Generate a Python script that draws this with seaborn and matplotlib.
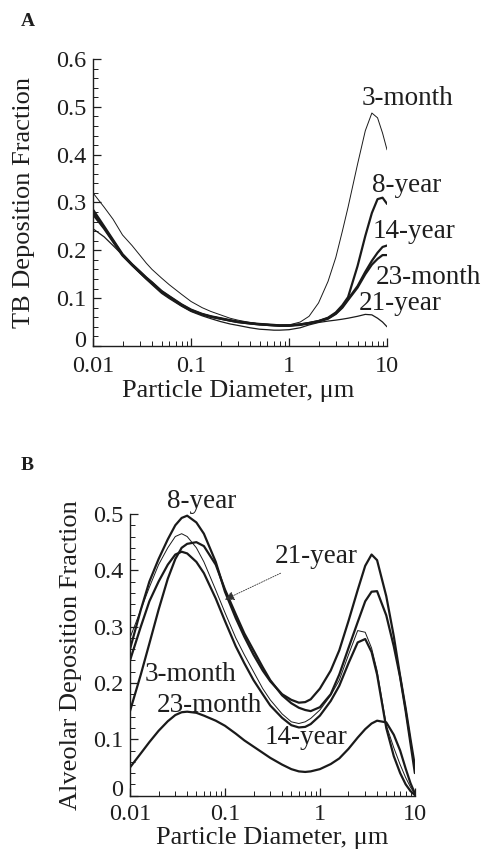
import numpy as np
import pandas as pd
import matplotlib
matplotlib.use("Agg")
import matplotlib.pyplot as plt
import matplotlib.ticker as mticker
import seaborn as sns

# ---------------- data ----------------
diam = [0.01, 0.013, 0.016, 0.02, 0.025, 0.03, 0.035, 0.04, 0.05, 0.06, 0.08, 0.1,
        0.13, 0.16, 0.2, 0.25, 0.3, 0.4, 0.5, 0.6, 0.7, 0.8, 1.0, 1.3, 1.6, 2.0,
        2.5, 3.0, 3.5, 4.0, 5.0, 6.0, 7.0, 8.0, 9.0, 10.0]

# Panel A: tracheobronchial (TB) deposition fraction
tb_3month = [0.320, 0.290, 0.265, 0.232, 0.210, 0.190, 0.173, 0.160, 0.142, 0.128, 0.108, 0.093,
             0.080, 0.072, 0.065, 0.058, 0.054, 0.049, 0.046, 0.044, 0.043, 0.043, 0.044, 0.050,
             0.062, 0.090, 0.135, 0.185, 0.240, 0.290, 0.380, 0.450, 0.487, 0.477, 0.445, 0.410]
tb_8year = [0.285, 0.250, 0.222, 0.192, 0.171, 0.156, 0.143, 0.133, 0.115, 0.104, 0.087, 0.076,
            0.067, 0.062, 0.058, 0.054, 0.051, 0.048, 0.046, 0.045, 0.044, 0.043, 0.043, 0.045,
            0.048, 0.052, 0.059, 0.070, 0.085, 0.102, 0.167, 0.230, 0.278, 0.307, 0.310, 0.297]
tb_14year = [0.280, 0.247, 0.220, 0.190, 0.170, 0.155, 0.142, 0.132, 0.114, 0.103, 0.086, 0.075,
             0.066, 0.061, 0.057, 0.053, 0.050, 0.047, 0.045, 0.044, 0.043, 0.043, 0.043, 0.045,
             0.048, 0.052, 0.058, 0.068, 0.082, 0.098, 0.125, 0.155, 0.178, 0.195, 0.207, 0.210]
tb_23month = [0.275, 0.245, 0.218, 0.189, 0.169, 0.154, 0.141, 0.131, 0.113, 0.102, 0.085, 0.074,
              0.066, 0.061, 0.057, 0.053, 0.050, 0.047, 0.045, 0.044, 0.043, 0.042, 0.042, 0.044,
              0.047, 0.051, 0.057, 0.067, 0.080, 0.096, 0.122, 0.150, 0.170, 0.182, 0.190, 0.190]
tb_21year = [0.245, 0.228, 0.210, 0.190, 0.168, 0.152, 0.139, 0.128, 0.110, 0.099, 0.083, 0.072,
             0.063, 0.057, 0.051, 0.046, 0.043, 0.038, 0.035, 0.034, 0.033, 0.033, 0.034, 0.038,
             0.044, 0.049, 0.052, 0.054, 0.056, 0.058, 0.062, 0.066, 0.065, 0.058, 0.050, 0.040]

# Panel B: alveolar deposition fraction
al_8year = [0.260, 0.330, 0.380, 0.420, 0.455, 0.480, 0.493, 0.497, 0.485, 0.465, 0.415, 0.362,
            0.315, 0.282, 0.250, 0.222, 0.203, 0.180, 0.170, 0.165, 0.166, 0.171, 0.190, 0.222,
            0.258, 0.310, 0.365, 0.408, 0.428, 0.418, 0.354, 0.283, 0.212, 0.155, 0.100, 0.053]
al_21year = [0.150, 0.215, 0.270, 0.330, 0.385, 0.420, 0.440, 0.447, 0.450, 0.443, 0.410, 0.366,
             0.322, 0.288, 0.258, 0.228, 0.205, 0.178, 0.164, 0.156, 0.152, 0.150, 0.157, 0.180,
             0.215, 0.262, 0.308, 0.345, 0.362, 0.363, 0.320, 0.265, 0.210, 0.150, 0.092, 0.040]
al_3month = [0.280, 0.330, 0.370, 0.410, 0.440, 0.460, 0.465, 0.460, 0.440, 0.415, 0.365, 0.325,
             0.280, 0.250, 0.220, 0.190, 0.170, 0.145, 0.131, 0.128, 0.131, 0.137, 0.152, 0.178,
             0.205, 0.250, 0.293, 0.290, 0.262, 0.222, 0.125, 0.085, 0.055, 0.032, 0.015, 0.003]
al_14year = [0.240, 0.300, 0.345, 0.380, 0.410, 0.428, 0.433, 0.430, 0.415, 0.395, 0.350, 0.310,
             0.265, 0.235, 0.205, 0.180, 0.160, 0.138, 0.125, 0.121, 0.122, 0.127, 0.142, 0.168,
             0.195, 0.235, 0.272, 0.278, 0.255, 0.215, 0.120, 0.070, 0.040, 0.020, 0.008, 0.001]
al_23month = [0.050, 0.075, 0.095, 0.115, 0.132, 0.143, 0.148, 0.149, 0.147, 0.142, 0.133, 0.124,
              0.110, 0.098, 0.087, 0.076, 0.067, 0.055, 0.047, 0.043, 0.042, 0.043, 0.047, 0.056,
              0.066, 0.083, 0.103, 0.118, 0.128, 0.133, 0.130, 0.108, 0.080, 0.048, 0.022, 0.004]

tb_series = {"3-month": tb_3month, "8-year": tb_8year, "14-year": tb_14year,
             "23-month": tb_23month, "21-year": tb_21year}
al_series = {"8-year": al_8year, "21-year": al_21year, "3-month": al_3month,
             "14-year": al_14year, "23-month": al_23month}

x_ticks = [0.01, 0.1, 1, 10]
x_ticklabels = ["0.01", "0.1", "1", "10"]
tb_yticks = [0, 0.1, 0.2, 0.3, 0.4, 0.5, 0.6]
al_yticks = [0, 0.1, 0.2, 0.3, 0.4, 0.5]

# ---------------- style ----------------
sns.set_style("ticks")
plt.rcParams["font.family"] = ["Liberation Serif", "DejaVu Serif"]
TXT = "#1e1e1e"
LBL = 19
CURVE = 19.5
TICK = 17.5

fig = plt.figure(figsize=(4.82, 8.5), dpi=100)
axA = fig.add_axes([0.193, 0.593, 0.610, 0.3376])
axB = fig.add_axes([0.2697, 0.0640, 0.591, 0.3313])


def style_axis(ax, yticks, ymax, xpad):
    ax.set_xscale("log")
    ax.set_xlim(0.01, 10)
    ax.set_ylim(0, ymax)
    ax.xaxis.set_major_locator(mticker.FixedLocator(x_ticks))
    ax.xaxis.set_major_formatter(mticker.FixedFormatter(x_ticklabels))
    ax.xaxis.set_minor_locator(mticker.LogLocator(base=10, subs=np.arange(2, 10)))
    ax.xaxis.set_minor_formatter(mticker.NullFormatter())
    ax.yaxis.set_major_locator(mticker.FixedLocator(yticks))
    # the "0" label sits slightly above the axis corner (drawn separately below)
    ax.yaxis.set_major_formatter(mticker.FixedFormatter(
        ["" if v == 0 else f"{v:.1f}" for v in yticks]))
    ax.yaxis.set_minor_locator(mticker.MultipleLocator(0.02))
    ax.tick_params(which="both", direction="in", colors=TXT, labelsize=TICK)
    ax.tick_params(which="major", length=6, width=0.9, pad=5)
    ax.tick_params(which="minor", length=3.5, width=0.7)
    ax.tick_params(axis="x", which="major", pad=xpad)
    for s in ("top", "right"):
        ax.spines[s].set_visible(False)
    for s in ("left", "bottom"):
        ax.spines[s].set_linewidth(1.0)
        ax.spines[s].set_color(TXT)
    ax.annotate("0", xy=(0, 0), xycoords="axes fraction", xytext=(-5, 3.5),
                textcoords="offset points", ha="right", va="center",
                fontsize=TICK, color=TXT, annotation_clip=False)


# ---------------- panel A ----------------
for name, vals in tb_series.items():
    lw = 0.7 if name == "3-month" else (0.9 if name == "21-year" else 1.6)
    sns.lineplot(x=diam, y=vals, ax=axA, color="#1a1a1a", lw=lw, legend=False)
style_axis(axA, tb_yticks, 0.6, 7.5)
axA.set_xlabel("Particle Diameter, μm", fontsize=LBL, color=TXT)
axA.set_ylabel("TB Deposition Fraction", fontsize=LBL, color=TXT)
axA.xaxis.set_label_coords(0.493, -0.118)
axA.yaxis.set_label_coords(-0.198, 0.5)

tb_label_pos = {"3-month": (5.5, 0.517), "8-year": (7.0, 0.335), "14-year": (7.2, 0.239),
                "23-month": (7.6, 0.144), "21-year": (5.1, 0.089)}
for name, (lx, ly) in tb_label_pos.items():
    axA.text(lx, ly, name, fontsize=CURVE, color=TXT, ha="left", va="center", clip_on=False)

# ---------------- panel B ----------------
for name, vals in al_series.items():
    lw = 0.7 if name == "3-month" else 1.6
    sns.lineplot(x=diam, y=vals, ax=axB, color="#1a1a1a", lw=lw, legend=False)
style_axis(axB, al_yticks, 0.5, 6)
axB.set_xlabel("Particle Diameter, μm", fontsize=LBL, color=TXT)
axB.set_ylabel("Alveolar Deposition Fraction", fontsize=LBL, color=TXT)
axB.xaxis.set_label_coords(0.498, -0.112)
axB.yaxis.set_label_coords(-0.168, 0.5)

al_label_pos = {"8-year": (0.0243, 0.522), "3-month": (0.0144, 0.215),
                "23-month": (0.0191, 0.160), "14-year": (0.264, 0.103)}
for name, (lx, ly) in al_label_pos.items():
    axB.text(lx, ly, name, fontsize=CURVE, color=TXT, ha="left", va="center", clip_on=False)
axB.annotate("21-year", xy=(0.1, 0.348), xytext=(0.336, 0.425), fontsize=CURVE, color=TXT,
             ha="left", va="center",
             arrowprops=dict(arrowstyle="-|>", color="#333333", lw=0.6, ls=(0, (1.5, 1.5)),
                             mutation_scale=14, shrinkA=2, shrinkB=0))

fig.text(28 / 482, 1 - 21 / 850, "A", fontsize=14, fontweight="bold", color=TXT,
         ha="center", va="center")
fig.text(27 / 482, 1 - 466 / 850, "B", fontsize=14, fontweight="bold", color=TXT,
         ha="center", va="center")

fig.savefig("out.png", dpi=100, facecolor="white")
